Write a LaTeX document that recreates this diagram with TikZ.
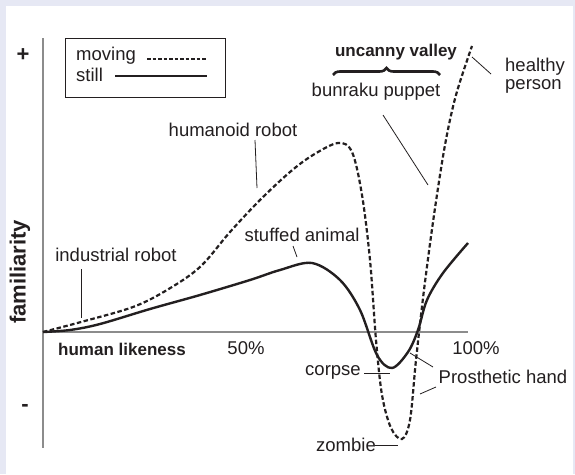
\documentclass[tikz,border=0pt]{standalone}
\usepackage{fontspec}
\setmainfont{Liberation Sans}
\usetikzlibrary{decorations.pathreplacing}
\definecolor{frameBg}{HTML}{E6E8F4}
\definecolor{ink}{HTML}{231F20}
\definecolor{axisGray}{HTML}{8C8C8C}

\begin{document}
\begin{tikzpicture}[x=1pt,y=-1pt,every node/.style={font=\fontsize{18.5}{21}\selectfont,text=ink,inner sep=0pt}]
      \tikzstyle{heavy}=[font=\fontsize{17}{20}\selectfont\bfseries]
      \tikzstyle{leader}=[draw=ink,line width=0.8pt]
      \tikzstyle{axisline}=[draw=axisGray,line width=1.3pt]
      \tikzstyle{stillcurve}=[draw=ink,line width=2.4pt]
      \tikzstyle{movingcurve}=[draw=ink,line width=2.2pt,dash pattern=on 4.5pt off 2.5pt]
      \fill[frameBg] (0,0) rectangle (575,474);
      \fill[white] (6,6) rectangle (573,474);
      \draw[axisline] (43,38) -- (43,448);
      \draw[axisline] (43,332) -- (468,332);
      \node[font=\fontsize{22}{24}\selectfont\bfseries] (plus) at (23,55) {+};
      \node[font=\fontsize{22}{24}\selectfont\bfseries] (minus) at (25,408) {-};
      \node[font=\fontsize{22}{24}\selectfont\bfseries,rotate=90] (fam) at (20,272) {familiarity};
      \draw[line width=0.9pt,draw=ink] (65,38) rectangle (225,97);
      \node[anchor=west] (mv) at (76,56) {moving};
      \node[anchor=west] (st) at (76,75) {still};
      \coordinate (mv1) at (147,59); \coordinate (mv2) at (207,59);
      \coordinate (st1) at (115,76); \coordinate (st2) at (207,76);
      \draw[ink,line width=1.8pt,dash pattern=on 3.5pt off 2pt] (mv1) -- (mv2);
      \draw[ink,line width=2pt] (st1) -- (st2);
      \draw[movingcurve] plot[smooth,tension=0.55] coordinates {(43,332) (81,322) (133,307) (167,290) (200,267) (230,232) (260,200) (290,172) (313,155) (338,143) (352,152) (362,195) (370,260) (376,340) (382,395) (391,428) (402,439) (410,420) (416,360) (424,290) (434,215) (445,145) (456,95) (472,46)};
      \draw[stillcurve] plot[smooth,tension=0.55] coordinates {(43,332) (70,330) (100,324) (150,309) (200,295) (250,280) (280,270) (312,263) (340,280) (360,310) (377,355) (392,368) (408,352) (418,330) (427,300) (443,273) (468,243)};
      \node[heavy] (uv) at (396,52) {uncanny valley};
      \coordinate (br1) at (333,75); \coordinate (br2) at (440,75);
      \draw[ink,line width=2.6pt,decorate,decoration={brace,amplitude=7pt}] (br1) -- (br2);
      \node (bp) at (376,92) {bunraku puppet};
      \node[anchor=west] (hp) at (505,67) {healthy};
      \node[anchor=west] (hp2) at (505,86) {person};
      \node (hr) at (233,130) {humanoid robot};
      \node (ir) at (116,255) {industrial robot};
      \node (sa) at (302,235) {stuffed animal};
      \node[heavy] (hl) at (122,349) {human likeness};
      \node (p50) at (246,348) {50\%};
      \node (p100) at (476,348) {100\%};
      \node (cp) at (333,372) {corpse};
      \node (ph) at (503,377) {Prosthetic hand};
      \node (zb) at (346,445) {zombie};
      \coordinate (hr1) at (255,140); \coordinate (hr2) at (257,188);
      \coordinate (ir1) at (81,269); \coordinate (ir2) at (81,318);
      \coordinate (sa1) at (293,246); \coordinate (sa2) at (297,257);
      \coordinate (bp1) at (383,115); \coordinate (bp2) at (428,185);
      \coordinate (hp1) at (472,57); \coordinate (hp3) at (491,74);
      \coordinate (cp1) at (364,373); \coordinate (cp2) at (390,373);
      \coordinate (ph1) at (410,353); \coordinate (ph2) at (433,367);
      \coordinate (ph3) at (420,394); \coordinate (ph4) at (436,387);
      \coordinate (zb1) at (375,445); \coordinate (zb2) at (398,445);
      \draw[leader] (hr1) -- (hr2);
      \draw[leader] (ir1) -- (ir2);
      \draw[leader] (sa1) -- (sa2);
      \draw[leader] (bp1) -- (bp2);
      \draw[leader] (hp1) -- (hp3);
      \draw[leader] (cp1) -- (cp2);
      \draw[leader] (ph1) -- (ph2);
      \draw[leader] (ph3) -- (ph4);
      \draw[leader] (zb1) -- (zb2);
    \end{tikzpicture}
\end{document}
